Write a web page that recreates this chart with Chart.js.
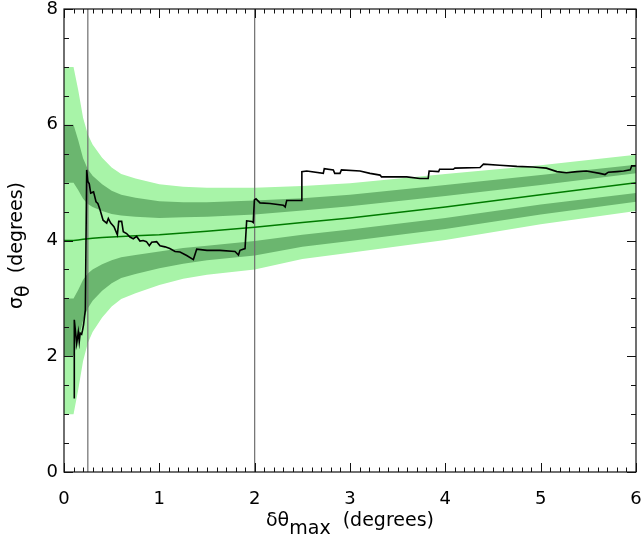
<!DOCTYPE html>
<html>
<head>
<meta charset="utf-8">
<script src="https://cdn.jsdelivr.net/npm/chart.js@4"></script>
<style>
  html, body { margin: 0; padding: 0; background: #fff; }
  #wrap { width: 643px; height: 544px; }
</style>
</head>
<body>
<div id="wrap"><canvas id="c" width="643" height="544"></canvas></div>
<script>
// band grid (x) and band edges
const bandX      = [0, 0.1, 0.15, 0.2, 0.25, 0.3, 0.4, 0.5, 0.6, 0.75, 1.0, 1.25, 1.5, 2.0, 2.5, 3.0, 4.0, 5.0, 6.0];
const centerY    = [4.0, 4.0, 4.01, 4.02, 4.03, 4.04, 4.05, 4.06, 4.07, 4.08, 4.10, 4.13, 4.16, 4.23, 4.31, 4.39, 4.58, 4.79, 5.0];
const lightTop   = [7.0, 7.0, 6.59, 6.12, 5.83, 5.66, 5.43, 5.26, 5.15, 5.07, 4.97, 4.93, 4.91, 4.91, 4.94, 4.99, 5.15, 5.30, 5.48];
const darkUpHi   = [6.0, 6.0, 5.73, 5.42, 5.23, 5.12, 4.97, 4.86, 4.79, 4.74, 4.68, 4.66, 4.66, 4.69, 4.73, 4.79, 4.96, 5.13, 5.31];
const darkUpLo   = [5.0, 5.0, 4.87, 4.72, 4.63, 4.58, 4.51, 4.46, 4.43, 4.41, 4.39, 4.40, 4.41, 4.45, 4.52, 4.59, 4.77, 4.96, 5.16];
const darkLowHi  = [3.0, 3.0, 3.15, 3.32, 3.43, 3.50, 3.59, 3.66, 3.71, 3.75, 3.81, 3.87, 3.91, 3.99, 4.10, 4.19, 4.39, 4.62, 4.82];
const darkLowLo  = [2.0, 2.0, 2.29, 2.62, 2.83, 2.96, 3.13, 3.26, 3.35, 3.42, 3.52, 3.60, 3.66, 3.74, 3.89, 3.99, 4.20, 4.45, 4.67];
const lightBot   = [1.0, 1.0, 1.43, 1.92, 2.23, 2.42, 2.67, 2.86, 2.99, 3.09, 3.23, 3.34, 3.41, 3.50, 3.68, 3.79, 4.01, 4.28, 4.51];

// measured sigma_theta vs delta theta_max (black step curve)
const stepX = [0.108, 0.108, 0.133, 0.150, 0.160, 0.170, 0.185, 0.195, 0.205, 0.224, 0.238, 0.250, 0.265, 0.280, 0.310, 0.336, 0.355, 0.378, 0.410, 0.448,
  0.465, 0.490, 0.524, 0.560, 0.574, 0.605, 0.622, 0.657, 0.692, 0.727, 0.762, 0.797, 0.830, 0.865, 0.895, 0.920, 0.972, 1.007, 1.060, 1.110,
  1.165, 1.217, 1.287, 1.357, 1.392, 1.500, 1.636, 1.794, 1.830, 1.846, 1.899, 1.916, 1.969, 1.985, 1.997, 2.014, 2.056, 2.160, 2.300, 2.320,
  2.336, 2.490, 2.495, 2.546, 2.720, 2.730, 2.825, 2.840, 2.895, 2.910, 3.105, 3.210, 3.315, 3.330, 3.595, 3.734, 3.820, 3.830, 3.930, 3.940,
  4.084, 4.100, 4.364, 4.400, 4.570, 4.750, 4.920, 5.060, 5.170, 5.270, 5.380, 5.480, 5.620, 5.675, 5.710, 5.800, 5.870, 5.940, 5.955, 6.000];
const stepY = [1.27, 2.63, 2.22, 2.42, 2.25, 2.40, 2.38, 2.45, 2.54, 2.80, 5.22, 5.02, 4.98, 4.82, 4.84, 4.67, 4.64, 4.53, 4.35, 4.30,
  4.38, 4.30, 4.24, 4.10, 4.33, 4.33, 4.15, 4.12, 4.06, 4.03, 4.07, 3.99, 4.00, 3.98, 3.91, 3.97, 3.98, 3.91, 3.89, 3.86,
  3.81, 3.80, 3.74, 3.67, 3.85, 3.83, 3.83, 3.81, 3.75, 3.83, 3.86, 4.34, 4.33, 4.31, 4.70, 4.72, 4.65, 4.64, 4.61, 4.58,
  4.69, 4.69, 5.19, 5.20, 5.16, 5.24, 5.22, 5.16, 5.16, 5.22, 5.20, 5.16, 5.13, 5.10, 5.10, 5.07, 5.07, 5.20, 5.19, 5.23,
  5.23, 5.25, 5.26, 5.32, 5.30, 5.28, 5.27, 5.25, 5.19, 5.17, 5.19, 5.20, 5.16, 5.14, 5.18, 5.19, 5.20, 5.22, 5.29, 5.29];

const markerX = [0.25, 2.0];
const xTicks = [0, 1, 2, 3, 4, 5, 6];
const yTicks = [0, 2, 4, 6, 8];

const LIGHT = '#a8f4a8', DARK = '#6bb66f';
const FONT = '"DejaVu Sans", sans-serif';

const pts = (xs, ys) => xs.map((x, i) => ({ x, y: ys[i] }));
const edge = (ys, extra) => Object.assign({ data: pts(bandX, ys), borderWidth: 0, pointRadius: 0, showLine: true, fill: false }, extra);

const datasets = [
  edge(lightTop, { fill: { target: 1 }, backgroundColor: LIGHT, order: 9 }),
  edge(lightBot, { order: 9 }),
  edge(darkUpHi, { fill: { target: 3 }, backgroundColor: DARK, order: 8 }),
  edge(darkUpLo, { order: 8 }),
  edge(darkLowHi, { fill: { target: 5 }, backgroundColor: DARK, order: 8 }),
  edge(darkLowLo, { order: 8 }),
  { data: pts(bandX, centerY), borderColor: '#007a00', borderWidth: 1.5, pointRadius: 0, showLine: true, fill: false, order: 5 },
  { data: pts(stepX, stepY), borderColor: '#000', borderWidth: 1.6, pointRadius: 0, showLine: true, fill: false, order: 4 }
];
markerX.forEach(mx => datasets.push({ data: [{ x: mx, y: 0 }, { x: mx, y: 8 }], borderColor: '#6e6e6e', borderWidth: 1.2, pointRadius: 0, showLine: true, fill: false, order: 6 }));

// frame, inward ticks on all four sides, axis titles with subscripts
const frame = {
  id: 'frame',
  afterDraw(chart) {
    const { ctx, chartArea: a, scales: { x, y } } = chart;
    ctx.save();
    ctx.strokeStyle = '#111'; ctx.lineWidth = 1.2;
    ctx.strokeRect(a.left, a.top, a.right - a.left, a.bottom - a.top);
    ctx.lineWidth = 1;
    ctx.beginPath();
    for (let i = 0; i <= 60; i++) {
      const px = Math.round(x.getPixelForValue(i / 10)) + 0.5, len = i % 10 === 0 ? 9 : 4.5;
      ctx.moveTo(px, a.bottom); ctx.lineTo(px, a.bottom - len);
      ctx.moveTo(px, a.top); ctx.lineTo(px, a.top + len);
    }
    for (let i = 0; i <= 16; i++) {
      const py = Math.round(y.getPixelForValue(i / 2)) + 0.5, len = i % 4 === 0 ? 9 : 5;
      ctx.moveTo(a.left, py); ctx.lineTo(a.left + len, py);
      ctx.moveTo(a.right, py); ctx.lineTo(a.right - len, py);
    }
    ctx.stroke();

    ctx.fillStyle = '#000';
    ctx.font = '19px ' + FONT;
    ctx.textBaseline = 'alphabetic';
    // x title: δθ_max (degrees)
    const parts = [['δθ', 0], ['max', 8], ['  (degrees)', 0]];
    let w = parts.reduce((s, p) => s + ctx.measureText(p[0]).width, 0);
    let cx = (a.left + a.right) / 2 - w / 2;
    parts.forEach(p => { ctx.fillText(p[0], cx, 526 + p[1]); cx += ctx.measureText(p[0]).width; });
    // y title: σ_θ (degrees)
    ctx.translate(22, (a.top + a.bottom) / 2 + 5);
    ctx.rotate(-Math.PI / 2);
    const yp = [['σ', 0], ['θ', 7], ['  (degrees)', 0]];
    w = yp.reduce((s, p) => s + ctx.measureText(p[0]).width, 0);
    cx = -w / 2;
    yp.forEach(p => { ctx.fillText(p[0], cx, p[1]); cx += ctx.measureText(p[0]).width; });
    ctx.restore();
  }
};

new Chart(document.getElementById('c'), {
  type: 'scatter',
  data: { datasets },
  plugins: [frame],
  options: {
    responsive: false,
    animation: false,
    devicePixelRatio: 1,
    layout: { padding: { top: 9, right: 7, left: 0, bottom: 0 } },
    plugins: { legend: { display: false }, tooltip: { enabled: false } },
    elements: { line: { tension: 0 } },
    scales: {
      x: {
        type: 'linear', min: 0, max: 6,
        afterFit: s => { s.height = 72; s.paddingLeft = 0; s.paddingRight = 0; },
        afterBuildTicks: s => { s.ticks = xTicks.map(v => ({ value: v })); },
        grid: { display: false, drawTicks: false },
        border: { display: false },
        ticks: { color: '#000', padding: 17, font: { family: FONT, size: 18 }, maxRotation: 0 }
      },
      y: {
        type: 'linear', min: 0, max: 8,
        afterFit: s => { s.width = 64; s.paddingTop = 0; s.paddingBottom = 0; },
        afterBuildTicks: s => { s.ticks = yTicks.map(v => ({ value: v })); },
        grid: { display: false, drawTicks: false },
        border: { display: false },
        ticks: { color: '#000', padding: 6, font: { family: FONT, size: 18 } }
      }
    }
  }
});
</script>
</body>
</html>
